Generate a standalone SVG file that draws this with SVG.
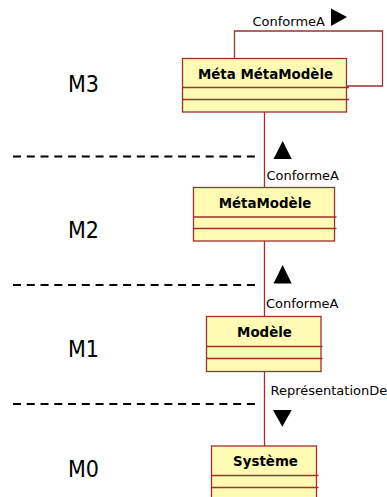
<svg xmlns="http://www.w3.org/2000/svg" width="387" height="497" viewBox="0 0 387 497">
<style>
.box{fill:#FFFBB5;stroke:#A0302E;stroke-width:1.3}
.sep{stroke:#A0302E;stroke-width:1.3}
.cn{fill:none;stroke:#A0302E;stroke-width:1.3}
.name{font-family:"DejaVu Sans",sans-serif;font-weight:bold;font-size:13.4px;fill:#000;text-anchor:middle}
.lbl{font-family:"DejaVu Sans",sans-serif;font-size:13px;fill:#000}
.lvl{font-family:"DejaVu Sans Condensed","DejaVu Sans",sans-serif;font-size:23px;fill:#000}
.dash{stroke:#000;stroke-width:2;stroke-dasharray:8 5.76}
.tri{fill:#000}
</style>
<rect width="387" height="497" fill="#fff"/>
<g id="levels">
<text class="lvl" x="68" y="91.7">M3</text>
<text class="lvl" x="68" y="237.7">M2</text>
<text class="lvl" x="68" y="356.7">M1</text>
<text class="lvl" x="68" y="476.7">M0</text>
<line class="dash" x1="13" y1="156.5" x2="255" y2="156.5"/>
<line class="dash" x1="13" y1="285" x2="255" y2="285"/>
<line class="dash" x1="13" y1="404" x2="255" y2="404"/>
</g>
<g id="connectors">
<polyline class="cn" points="234.5,58.5 234.5,31 382.5,31 382.5,86 346.5,86"/>
<line class="cn" x1="264.5" y1="112" x2="264.5" y2="187.5"/>
<line class="cn" x1="264.5" y1="241" x2="264.5" y2="316.5"/>
<line class="cn" x1="264.5" y1="371.5" x2="264.5" y2="446"/>
<text class="lbl" x="252.5" y="26">ConformeA</text>
<polygon class="tri" points="331,8.5 331,26 347,17"/>
<polygon class="tri" points="282.7,141 273.5,159 291.7,159"/>
<text class="lbl" x="266.5" y="180">ConformeA</text>
<polygon class="tri" points="282.7,265 273.5,283.5 291.7,283.5"/>
<text class="lbl" x="266" y="307.5">ConformeA</text>
<text class="lbl" x="270.5" y="395">ReprésentationDe</text>
<polygon class="tri" points="273,410 291.7,410 282.3,426.7"/>
</g>
<g id="metametamodele">
<rect class="box" x="182.5" y="58.5" width="164" height="53.5"/>
<line class="sep" x1="182.5" y1="87.5" x2="349" y2="87.5"/>
<line class="sep" x1="182.5" y1="99.5" x2="349" y2="99.5"/>
<text class="name" x="265.5" y="79">Méta MétaModèle</text>
</g>
<g id="metamodele">
<rect class="box" x="193.5" y="187.5" width="141" height="53.5"/>
<line class="sep" x1="193.5" y1="217" x2="336.5" y2="217"/>
<line class="sep" x1="193.5" y1="228.5" x2="336.5" y2="228.5"/>
<text class="name" x="265" y="208">MétaModèle</text>
</g>
<g id="modele">
<rect class="box" x="206.5" y="316.5" width="114.5" height="55"/>
<line class="sep" x1="206.5" y1="346.5" x2="322.5" y2="346.5"/>
<line class="sep" x1="206.5" y1="358.5" x2="322.5" y2="358.5"/>
<text class="name" x="264.5" y="336.7">Modèle</text>
</g>
<g id="systeme">
<rect class="box" x="211.5" y="446" width="105" height="60"/>
<line class="sep" x1="211.5" y1="475.5" x2="318.5" y2="475.5"/>
<line class="sep" x1="211.5" y1="487.5" x2="318.5" y2="487.5"/>
<text class="name" x="265.5" y="466">Système</text>
</g>
</svg>
